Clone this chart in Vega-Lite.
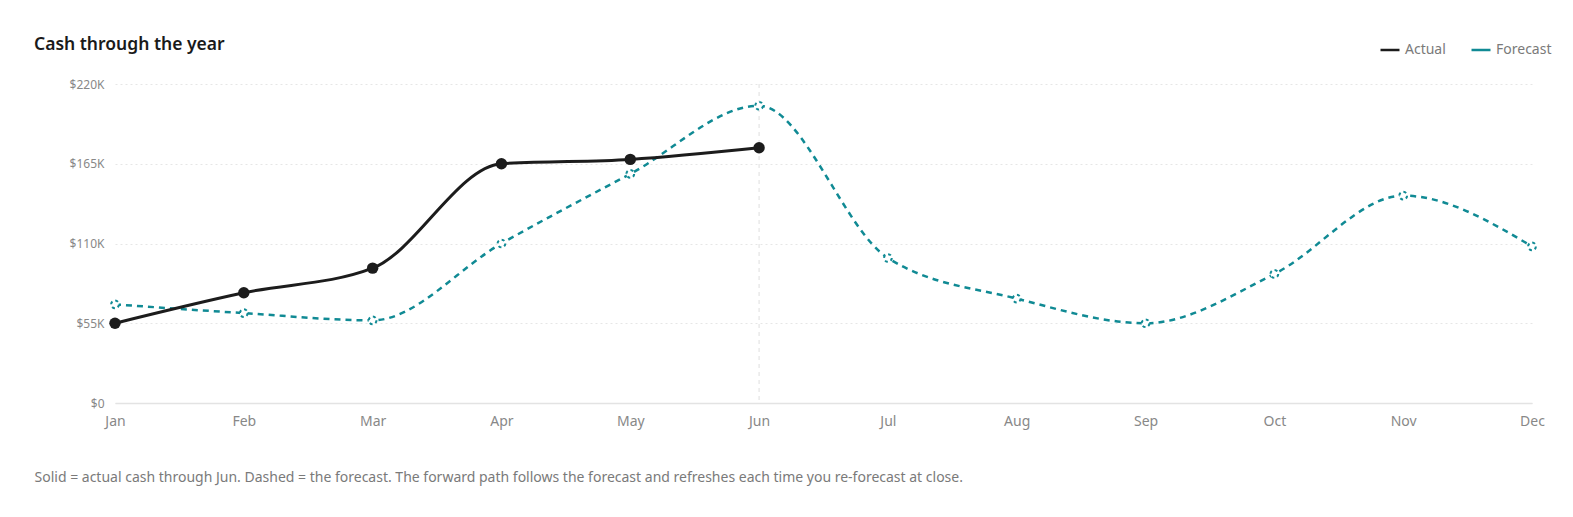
{
  "$schema": "https://vega.github.io/schema/vega-lite/v6.json",
  "width": 1417,
  "height": 319,
  "autosize": {"type": "none"},
  "padding": {"left": 115, "top": 84, "right": 41, "bottom": 114},
  "background": "white",
  "config": {
    "font": "Noto Sans",
    "view": {"stroke": null}
  },
  "title": {
    "text": "Cash through the year",
    "anchor": "start",
    "frame": "group",
    "dx": -81,
    "offset": -14,
    "fontSize": 17.5,
    "fontWeight": 600,
    "color": "#1a1a1a"
  },
  "datasets": {
    "cash": [
      {"month": "Jan", "series": "Actual", "value": 55000},
      {"month": "Feb", "series": "Actual", "value": 76000},
      {"month": "Mar", "series": "Actual", "value": 93000},
      {"month": "Apr", "series": "Actual", "value": 165000},
      {"month": "May", "series": "Actual", "value": 168000},
      {"month": "Jun", "series": "Actual", "value": 176000},
      {"month": "Jan", "series": "Forecast", "value": 68000},
      {"month": "Feb", "series": "Forecast", "value": 62000},
      {"month": "Mar", "series": "Forecast", "value": 57000},
      {"month": "Apr", "series": "Forecast", "value": 110000},
      {"month": "May", "series": "Forecast", "value": 158000},
      {"month": "Jun", "series": "Forecast", "value": 205000},
      {"month": "Jul", "series": "Forecast", "value": 100000},
      {"month": "Aug", "series": "Forecast", "value": 72000},
      {"month": "Sep", "series": "Forecast", "value": 55000},
      {"month": "Oct", "series": "Forecast", "value": 89000},
      {"month": "Nov", "series": "Forecast", "value": 143000},
      {"month": "Dec", "series": "Forecast", "value": 108000}
    ],
    "today": [{"month": "Jun"}]
  },
  "encoding": {
    "x": {
      "field": "month",
      "type": "ordinal",
      "sort": ["Jan", "Feb", "Mar", "Apr", "May", "Jun", "Jul", "Aug", "Sep", "Oct", "Nov", "Dec"],
      "scale": {"type": "point", "padding": 0},
      "axis": {
        "title": "Solid = actual cash through Jun. Dashed = the forecast. The forward path follows the forecast and refreshes each time you re-forecast at close.",
        "titleAnchor": "start",
        "titleAlign": "left",
        "titleX": -81,
        "titleY": 74,
        "titleBaseline": "middle",
        "titleFontSize": 14,
        "titleFontWeight": "normal",
        "titleColor": "#7a7a7a",
        "labelAngle": 0,
        "labelFontSize": 14,
        "labelColor": "#888888",
        "labelPadding": 11,
        "ticks": false,
        "domainColor": "#e3e3e3",
        "domainWidth": 1.5,
        "grid": false
      }
    }
  },
  "layer": [
    {
      "data": {"name": "today"},
      "mark": {"type": "rule", "color": "#dedede", "strokeDash": [4, 4], "strokeWidth": 1}
    },
    {
      "data": {"name": "cash"},
      "transform": [{"filter": "datum.series == 'Forecast'"}],
      "mark": {"type": "line", "interpolate": "monotone", "strokeWidth": 2.5, "strokeDash": [6, 5]},
      "encoding": {
        "y": {
          "field": "value",
          "type": "quantitative",
          "scale": {"domain": [0, 220000], "nice": false},
          "axis": {
            "title": null,
            "values": [0, 55000, 110000, 165000, 220000],
            "labelExpr": "datum.value == 0 ? '$0' : '$' + (datum.value / 1000) + 'K'",
            "labelFontSize": 12,
            "labelColor": "#888888",
            "labelPadding": 11,
            "ticks": false,
            "domain": false,
            "gridColor": "#e6e6e6",
            "gridDash": [2, 3],
            "gridWidth": 1
          }
        },
        "color": {
          "field": "series",
          "type": "nominal",
          "scale": {"domain": ["Actual", "Forecast"], "range": ["#1c1c1c", "#108a94"]},
          "legend": {
            "title": null,
            "orient": "none",
            "direction": "horizontal",
            "legendX": 1264,
            "legendY": -45,
            "symbolType": "stroke",
            "symbolSize": 361,
            "symbolStrokeWidth": 2.5,
            "labelFontSize": 14,
            "labelColor": "#7a7a7a",
            "labelOffset": 4,
            "columnPadding": 20
          }
        }
      }
    },
    {
      "data": {"name": "cash"},
      "transform": [{"filter": "datum.series == 'Forecast'"}],
      "mark": {"type": "point", "shape": "circle", "filled": true, "fill": "white", "stroke": "#108a94", "strokeWidth": 2, "strokeDash": [3, 3], "size": 60, "opacity": 1},
      "encoding": {
        "y": {"field": "value", "type": "quantitative"}
      }
    },
    {
      "data": {"name": "cash"},
      "transform": [{"filter": "datum.series == 'Actual'"}],
      "mark": {"type": "line", "interpolate": "monotone", "strokeWidth": 3},
      "encoding": {
        "y": {"field": "value", "type": "quantitative"},
        "color": {"field": "series", "type": "nominal"}
      }
    },
    {
      "data": {"name": "cash"},
      "transform": [{"filter": "datum.series == 'Actual'"}],
      "mark": {"type": "circle", "color": "#1c1c1c", "size": 130, "opacity": 1},
      "encoding": {
        "y": {"field": "value", "type": "quantitative"}
      }
    }
  ]
}
